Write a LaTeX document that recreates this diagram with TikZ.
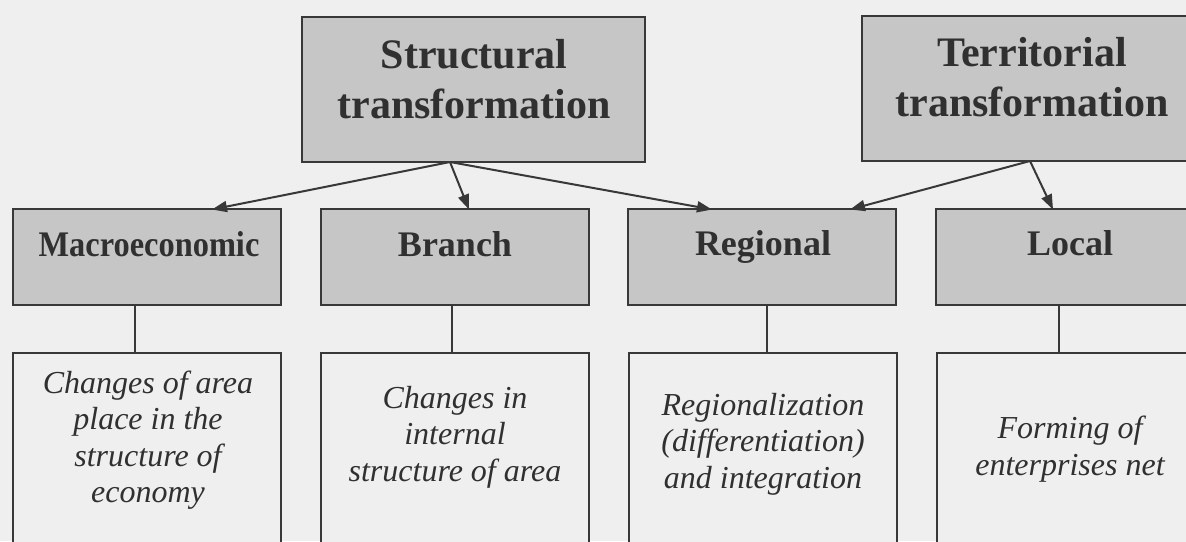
\documentclass[tikz,border=0pt]{standalone}
\usepackage{fontspec}
\setmainfont{Liberation Serif}
\usetikzlibrary{arrows.meta}
\definecolor{bg}{HTML}{EFEFEF}
\definecolor{boxfill}{HTML}{C6C6C6}
\definecolor{ink}{HTML}{383838}
\definecolor{txt}{HTML}{303030}
\tikzset{
  topbox/.style={draw=ink, line width=2.4pt, fill=boxfill, minimum width=343pt, minimum height=145pt, inner sep=0pt},
  midbox/.style={draw=ink, line width=2.4pt, fill=boxfill, minimum width=268pt, minimum height=96pt, inner sep=0pt},
  lowbox/.style={draw=ink, line width=2.4pt, fill=bg, minimum width=268pt, minimum height=200pt, inner sep=0pt},
  toptext/.style={text=txt, font=\fontsize{42}{50}\selectfont\bfseries, align=center, inner sep=0pt},
  midtext/.style={text=txt, font=\fontsize{36}{42}\selectfont\bfseries, anchor=base, inner sep=0pt},
  lowtext/.style={text=txt, font=\fontsize{32}{36.5}\selectfont\itshape, align=center, inner sep=0pt},
  arr/.style={draw=ink, line width=2pt, -{Triangle[length=15pt,width=11pt]}},
  link/.style={draw=ink, line width=2.4pt}
}
\begin{document}
\begin{tikzpicture}[x=1pt,y=-1pt]
\useasboundingbox (0,0) rectangle (1186,541);
\fill[bg] (0,0) rectangle (1186,541);
\clip (0,0) rectangle (1186,541);
% top boxes
\node[topbox] (st) at (473.5,89.5) {};
\node[topbox] (tt) at (1033.5,88.5) {};
% middle boxes
\node[midbox] (ma) at (147,257) {};
\node[midbox] (br) at (455,257) {};
\node[midbox] (re) at (762,257) {};
\node[midbox] (lo) at (1070,257) {};
% lower boxes
\node[lowbox] (mal) at (147,453) {};
\node[lowbox] (brl) at (455,453) {};
\node[lowbox] (rel) at (763,453) {};
\node[lowbox] (lol) at (1071,453) {};
% texts
\node[toptext] (stt) at (474,79) {Structural\\transformation};
\node[toptext] (ttt) at (1032,77) {Territorial\\transformation};
\node[midtext] (mat) at (149,256) {\scalebox{0.9}[1]{Macroeconomic}};
\node[midtext] (brt) at (455,256) {Branch};
\node[midtext] (ret) at (763,255) {Regional};
\node[midtext] (lot) at (1070,255) {Local};
\node[lowtext] (malt) at (148,440) {Changes of area\\place in the\\structure of\\economy};
\node[lowtext] (brlt) at (455,437) {Changes in\\internal\\structure of area};
\node[lowtext] (relt) at (763,444) {Regionalization\\(differentiation)\\and integration};
\node[lowtext] (lolt) at (1070,449) {Forming of\\enterprises net};
% arrows
\coordinate (sA) at (450,162);
\coordinate (tA) at (1030,161);
\draw[arr] (sA) -- (212,209.5);
\draw[arr] (sA) -- (469,209.5);
\draw[arr] (sA) -- (712,209.5);
\draw[arr] (tA) -- (850,209.5);
\draw[arr] (tA) -- (1053,209.5);
% vertical links
\draw[link] (135,305) -- (135,353);
\draw[link] (452,305) -- (452,353);
\draw[link] (767,305) -- (767,353);
\draw[link] (1059,305) -- (1059,353);
\end{tikzpicture}
\end{document}
